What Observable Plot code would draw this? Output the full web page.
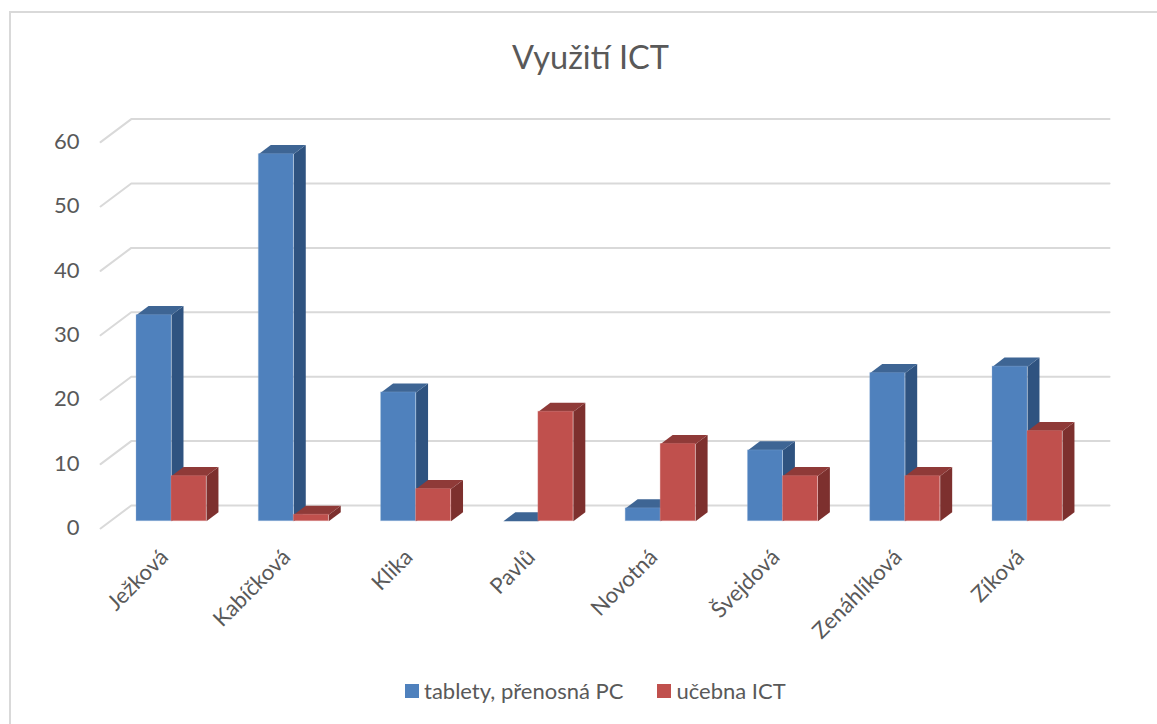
<!DOCTYPE html>
<html lang="cs">
<head>
<meta charset="utf-8">
<script src="https://cdn.jsdelivr.net/npm/d3@7"></script>
<script src="https://cdn.jsdelivr.net/npm/@observablehq/plot@0.6"></script>
<style>
  html, body { margin: 0; padding: 0; background: #fff; width: 1157px; height: 724px; overflow: hidden; }
  body { font-family: Lato, "Open Sans", sans-serif; color: #595959; position: relative; }
  #frame { position: absolute; left: 9px; top: 11px; right: 0; bottom: 0; border-left: 2px solid #d9d9d9; border-top: 2px solid #d9d9d9; pointer-events: none; }
  #title { height: 88px; box-sizing: border-box; padding-top: 34px; padding-left: 24px; text-align: center; font-size: 32.5px; line-height: 46px; }
  #chart svg { display: block; }
  #legend { height: 66px; box-sizing: border-box; padding-left: 405px; display: flex; align-items: center; font-size: 22px; line-height: 26px; }
  #legend i { display: inline-block; width: 14px; height: 14px; margin-right: 5px; }
  #legend span { margin-right: 34px; display: flex; align-items: center; }
</style>
</head>
<body>
<div id="frame"></div>
<div id="title">Využití ICT</div>
<div id="chart"></div>
<div id="legend"></div>
<script>
const categories = ["Ježková", "Kabíčková", "Klika", "Pavlů", "Novotná", "Švejdová", "Zenáhlíková", "Zíková"];
const seriesNames = ["tablety, přenosná PC", "učebna ICT"];
const tablety = [32, 57, 20, 0, 2, 11, 23, 24];
const ucebna = [7, 1, 5, 17, 12, 7, 7, 14];
const yTicks = [0, 10, 20, 30, 40, 50, 60];
const blueFaces = { front: "#4f81bd", top: "#3e6594", side: "#2f5380", edge: "#8fb0d8" };
const redFaces = { front: "#c0504d", top: "#8f3a38", side: "#7d302e", edge: "#d98c8a" };

// depth of the 3D projection, in data units (category steps / values)
const barW = 0.286, barDX = 0.098, barDY = 1.4;
const backDX = 0.171, backDY = 2.44, frontDX = -0.08, frontDY = -1.13;
const lastX = 7.5;

const topOffset = 88;
const idx = categories.map((_, i) => i);

const gridPts = yTicks.flatMap(v => [
  { x: -0.5 + frontDX, y: v + frontDY, k: v },
  { x: -0.5 + backDX, y: v + backDY, k: v },
  { x: lastX + backDX, y: v + backDY, k: v }
]);

function sideFace(vals, x1) {
  return vals.flatMap((v, i) => [
    { x: i + x1, y: 0, k: i }, { x: i + x1 + barDX, y: barDY, k: i },
    { x: i + x1 + barDX, y: v + barDY, k: i }, { x: i + x1, y: v, k: i }
  ]);
}
function topFace(vals, x0, x1) {
  return vals.flatMap((v, i) => [
    { x: i + x0, y: v, k: i }, { x: i + x0 + barDX, y: v + barDY, k: i },
    { x: i + x1 + barDX, y: v + barDY, k: i }, { x: i + x1, y: v, k: i }
  ]);
}
function bar(vals, x0, x1, c) {
  const front = vals.map((v, i) => ({ x1: i + x0, x2: i + x1, y: v }));
  return [
    Plot.line(sideFace(vals, x1), { x: "x", y: "y", z: "k", fill: c.side, stroke: "none" }),
    Plot.line(topFace(vals, x0, x1), { x: "x", y: "y", z: "k", fill: c.top, stroke: "none" }),
    Plot.rect(front.filter(d => d.y > 0), { x1: "x1", x2: "x2", y1: 0, y2: "y", fill: c.front, stroke: c.edge, strokeWidth: 1, strokeOpacity: 0.3 })
  ];
}

const plot = Plot.plot({
  width: 1157,
  height: 570,
  marginLeft: 82,
  marginBottom: 570 - (553 - topOffset),
  marginTop: 0,
  marginRight: 0,
  style: { background: "transparent", fontFamily: "Lato, 'Open Sans', sans-serif", color: "#595959", overflow: "visible" },
  x: { type: "linear", domain: [0, 7], range: [171, 171 + 856] },
  y: { domain: [0, 60], range: [520.7 - topOffset, 134.3 - topOffset] },
  marks: [
    Plot.line(gridPts, { x: "x", y: "y", z: "k", stroke: "#d9d9d9", strokeWidth: 2 }),
    ...bar(tablety, -barW, 0, blueFaces),
    ...bar(ucebna, 0, barW, redFaces),
    Plot.axisY({ ticks: yTicks, tickSize: 0, tickPadding: 3, dy: 7, fontSize: 22, label: null, stroke: "none", fill: "#595959" }),
    Plot.axisX({ ticks: idx, tickFormat: i => categories[i], tickRotate: -45, tickSize: 0, tickPadding: 0, dx: -7, fontSize: 22, label: null, fill: "#595959" })
  ]
});
document.getElementById("chart").append(plot);

const legendBox = document.getElementById("legend");
[blueFaces, redFaces].forEach((c, i) => {
  const s = document.createElement("span");
  const sw = document.createElement("i");
  sw.style.background = c.front;
  s.append(sw, seriesNames[i]);
  legendBox.append(s);
});
</script>
</body>
</html>
